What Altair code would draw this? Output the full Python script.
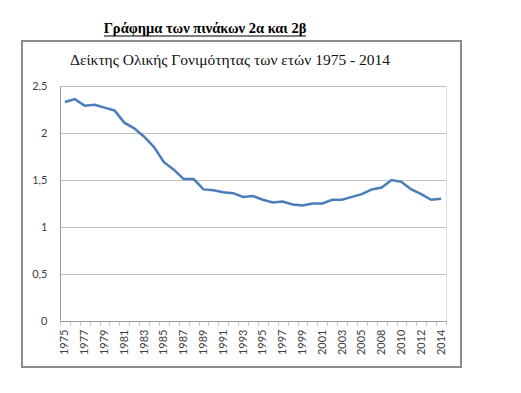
import altair as alt
import pandas as pd

years = ["1975", "1976", "1977", "1978", "1979", "1980", "1981", "1982", "1983", "1984",
         "1985", "1986", "1987", "1988", "1989", "1990", "1991", "1992", "1993", "1994",
         "1995", "1996", "1997", "1998", "1999", "2000", "2001", "2002", "2003", "2004",
         "2005", "2007", "2008", "2009", "2010", "2011", "2012", "2013", "2014"]
tfr = [2.33, 2.36, 2.29, 2.30, 2.27, 2.24, 2.11, 2.05, 1.96, 1.85,
       1.69, 1.61, 1.51, 1.51, 1.40, 1.39, 1.37, 1.36, 1.32, 1.33,
       1.29, 1.26, 1.27, 1.24, 1.23, 1.25, 1.25, 1.29, 1.29, 1.32,
       1.35, 1.40, 1.42, 1.50, 1.48, 1.40, 1.35, 1.29, 1.30]
shown_labels = years[::2]
y_ticks = [0, 0.5, 1, 1.5, 2, 2.5]

outer_title = "Γράφημα των πινάκων 2α και 2β"
inner_title = "Δείκτης Ολικής Γονιμότητας των ετών 1975 - 2014"

df = pd.DataFrame({"year": years, "tfr": tfr})

label_list = "[" + ",".join("'" + s + "'" for s in shown_labels) + "]"

line = alt.Chart(df).mark_line(color="#4A7EBB", strokeWidth=2.5).encode(
    x=alt.X("year:N", sort=None, bandPosition=0.5,
            scale=alt.Scale(type="band", paddingInner=0, paddingOuter=0),
            axis=alt.Axis(title=None, labelAngle=270, labelFont="Lato", labelFontSize=11,
                          labelColor="#404040", labelPadding=4, tickBand="extent",
                          tickColor="#B8C8D8", tickSize=4, domainColor="#9A9A9A",
                          grid=False,
                          labelExpr="indexof(" + label_list + ", datum.value) >= 0 ? datum.label : ''")),
    y=alt.Y("tfr:Q", scale=alt.Scale(domain=[0, 2.5], nice=False),
            axis=alt.Axis(title=None, values=y_ticks, labelFont="Lato", labelFontSize=11,
                          labelColor="#404040", labelPadding=13, ticks=False,
                          domainColor="#9A9A9A", gridColor="#C0C0C0",
                          labelExpr="replace(format(datum.value, '~g'), '.', ',')")),
)

box = alt.Chart(df).mark_rect(fill=None, stroke="#8C8C8C", strokeWidth=1.2, clip=False).encode(
    x=alt.value(-38), x2=alt.value(401), y=alt.value(-45), y2=alt.value(281)
)

outer = alt.Chart(df).mark_text(text=outer_title, font="Liberation Serif", fontSize=14.5,
                                fontWeight="bold", color="#000000", align="center",
                                baseline="alphabetic").encode(
    x=alt.value(145), y=alt.value(-53)
)
underline = alt.Chart(df).mark_rule(color="#000000", strokeWidth=1).encode(
    x=alt.value(44), x2=alt.value(246), y=alt.value(-50)
)
inner = alt.Chart(df).mark_text(text=inner_title, font="Liberation Serif", fontSize=15.5,
                                color="#111111", align="center",
                                baseline="alphabetic").encode(
    x=alt.value(170), y=alt.value(-21)
)

chart = alt.layer(box, line, outer.transform_filter("datum.year == '1975'"),
                  underline.transform_filter("datum.year == '1975'"),
                  inner.transform_filter("datum.year == '1975'")).properties(
    width=386, height=235,
    autosize=alt.AutoSizeParams(type="none"),
    padding={"left": 52, "top": 78, "right": 60, "bottom": 70},
).configure_view(stroke=None).configure(background="white")

chart.save("out.html", embed_options={"renderer": "svg", "actions": False})
